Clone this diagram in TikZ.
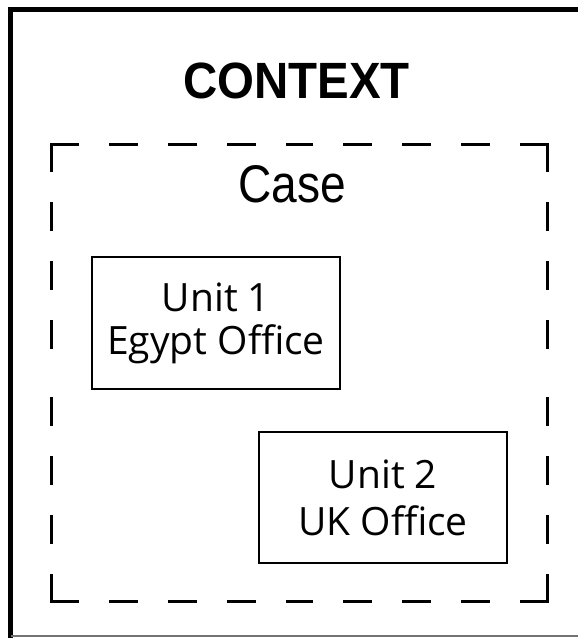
\documentclass[tikz,border=0pt]{standalone}
\usepackage{fontspec}
\usepackage{graphicx}
\setmainfont{Open Sans}
\newfontfamily\ctxfont{Liberation Sans}
\begin{document}
\begin{tikzpicture}[x=1pt,y=-1pt,
  unitbox/.style={draw=black, line width=2.6pt, minimum width=248pt,
    minimum height=132pt, align=center, inner sep=0pt},
  casedash/.style={line width=3pt, line cap=rect, dash pattern=on 26pt off 33pt},
  frameline/.style={line width=5pt, black}]
\useasboundingbox (0,0) rectangle (578,638);
\fill[white] (0,0) rectangle (578,638);
% outer frame (context)
\draw[frameline] (580,9) -- (10.5,9) -- (10.5,640);
\draw[line width=1.5pt, black!55] (10.5,635.8) -- (580,635.8);
% dashed case frame
\coordinate (TL) at (51.5,144);
\coordinate (TR) at (547,144);
\coordinate (BR) at (547,601);
\coordinate (BL) at (51.5,601);
\coordinate (TM) at (299.25,144);
\coordinate (BM) at (299.25,601);
\coordinate (LM) at (51.5,372.5);
\coordinate (RM) at (547,372.5);
\draw[casedash] (TL) -- (TM);
\draw[casedash] (TR) -- (TM);
\draw[casedash] (BL) -- (BM);
\draw[casedash] (BR) -- (BM);
\draw[casedash] (TL) -- (LM);
\draw[casedash] (BL) -- (LM);
\draw[casedash] (TR) -- (RM);
\draw[casedash] (BR) -- (RM);
% labels
\node[anchor=base, inner sep=0pt] (ctx) at (296.5,98)
  {\ctxfont\bfseries\fontsize{51}{51}\selectfont\scalebox{0.93}[1]{CONTEXT}};
\node[anchor=base, inner sep=0pt] (case) at (292.5,202)
  {\ctxfont\fontsize{53}{53}\selectfont\scalebox{0.87}[1]{Case}};
% units
\node[unitbox, font=\fontsize{39}{43}\selectfont] (u1) at (216,323)
  {Unit 1\\Egypt Office};
\node[unitbox, minimum height=131pt, font=\fontsize{39}{47}\selectfont] (u2) at (383,497.5)
  {Unit 2\\UK Office};
\end{tikzpicture}
\end{document}
